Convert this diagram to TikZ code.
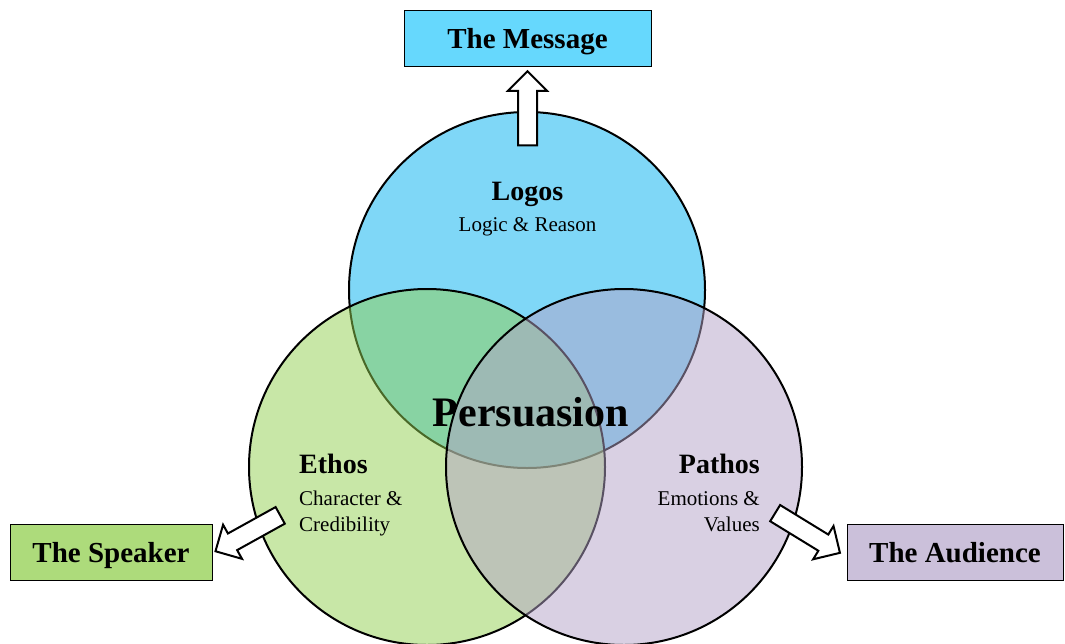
\documentclass[tikz,border=0pt]{standalone}
\usepackage{fontspec}
\setmainfont{Liberation Serif}
\usetikzlibrary{shapes.arrows,positioning}

\definecolor{logosblue}{HTML}{00B0F0}
\definecolor{ethosgreen}{HTML}{92D050}
\definecolor{pathoslilac}{HTML}{B3A2C7}
\definecolor{messagefill}{HTML}{66D8FD}
\definecolor{speakerfill}{HTML}{ADDB7B}
\definecolor{audiencefill}{HTML}{CBC0DA}

\begin{document}
\begin{tikzpicture}[x=1pt,y=-1pt,
	venn/.style={circle,draw=black,line width=2pt,fill opacity=0.5,minimum size=356pt,inner sep=0pt},
	target/.style={rectangle,draw=black,line width=1pt,minimum height=56pt,minimum width=#1,font=\bfseries\fontsize{29}{32}\selectfont},
	blockarrow/.style={single arrow,draw=black,fill=white,line width=2pt,inner sep=8.5pt,minimum width=38pt,single arrow head extend=10pt,minimum height=#1},
	heading/.style={font=\bfseries\fontsize{28}{30}\selectfont,inner sep=0pt},
	sub/.style={font=\fontsize{21}{24}\selectfont,inner sep=0pt}]
	\useasboundingbox (0,0) rectangle (1065,643);

	% the three appeals
	\node[venn,fill=logosblue] (logos) at (527,290) {};
	\node[venn,fill=ethosgreen] (ethos) at (427,467) {};
	\node[venn,fill=pathoslilac] (pathos) at (624,467) {};

	% where each appeal points to
	\node[target=247pt,fill=messagefill] (message) at (527.5,38.5) {};
	\node[target=202pt,fill=speakerfill] (speaker) at (111,552) {};
	\node[target=216pt,fill=audiencefill] (audience) at (955,552) {};
	\node[heading,font=\bfseries\fontsize{29}{32}\selectfont,anchor=base] at (527.5,48.5) {The Message};
	\node[heading,font=\bfseries\fontsize{29}{32}\selectfont,anchor=base] at (111,562.5) {The Speaker};
	\node[heading,font=\bfseries\fontsize{29}{32}\selectfont,anchor=base] at (955,562.5) {The Audience};

	\node[blockarrow=74pt,rotate=90] (toMessage) at (527.5,113) {};
	\node[blockarrow=74pt,rotate=209] (toSpeaker) at (252,531) {};
	\node[blockarrow=76pt,rotate=-31.5] (toAudience) at (803.5,530.5) {};

	% labels
	\node[heading,anchor=base] (logosT) at (527.5,200.5) {Logos};
	\node[sub,anchor=base] (logosS) at (527.5,231.5) {Logic \& Reason};

	\node[heading,anchor=base west] (ethosT) at (299,473) {Ethos};
	\node[sub,anchor=base west] (ethosS1) at (299,505) {Character \&};
	\node[sub,anchor=base west] (ethosS2) at (299,531.5) {Credibility};

	\node[heading,anchor=base east] (pathosT) at (760,473) {Pathos};
	\node[sub,anchor=base east] (pathosS1) at (760,505) {Emotions \&};
	\node[sub,anchor=base east] (pathosS2) at (760,531.5) {Values};

	\node[heading,font=\bfseries\fontsize{42}{46}\selectfont,anchor=base] (core) at (531,426.5) {Persuasion};
\end{tikzpicture}
\end{document}
